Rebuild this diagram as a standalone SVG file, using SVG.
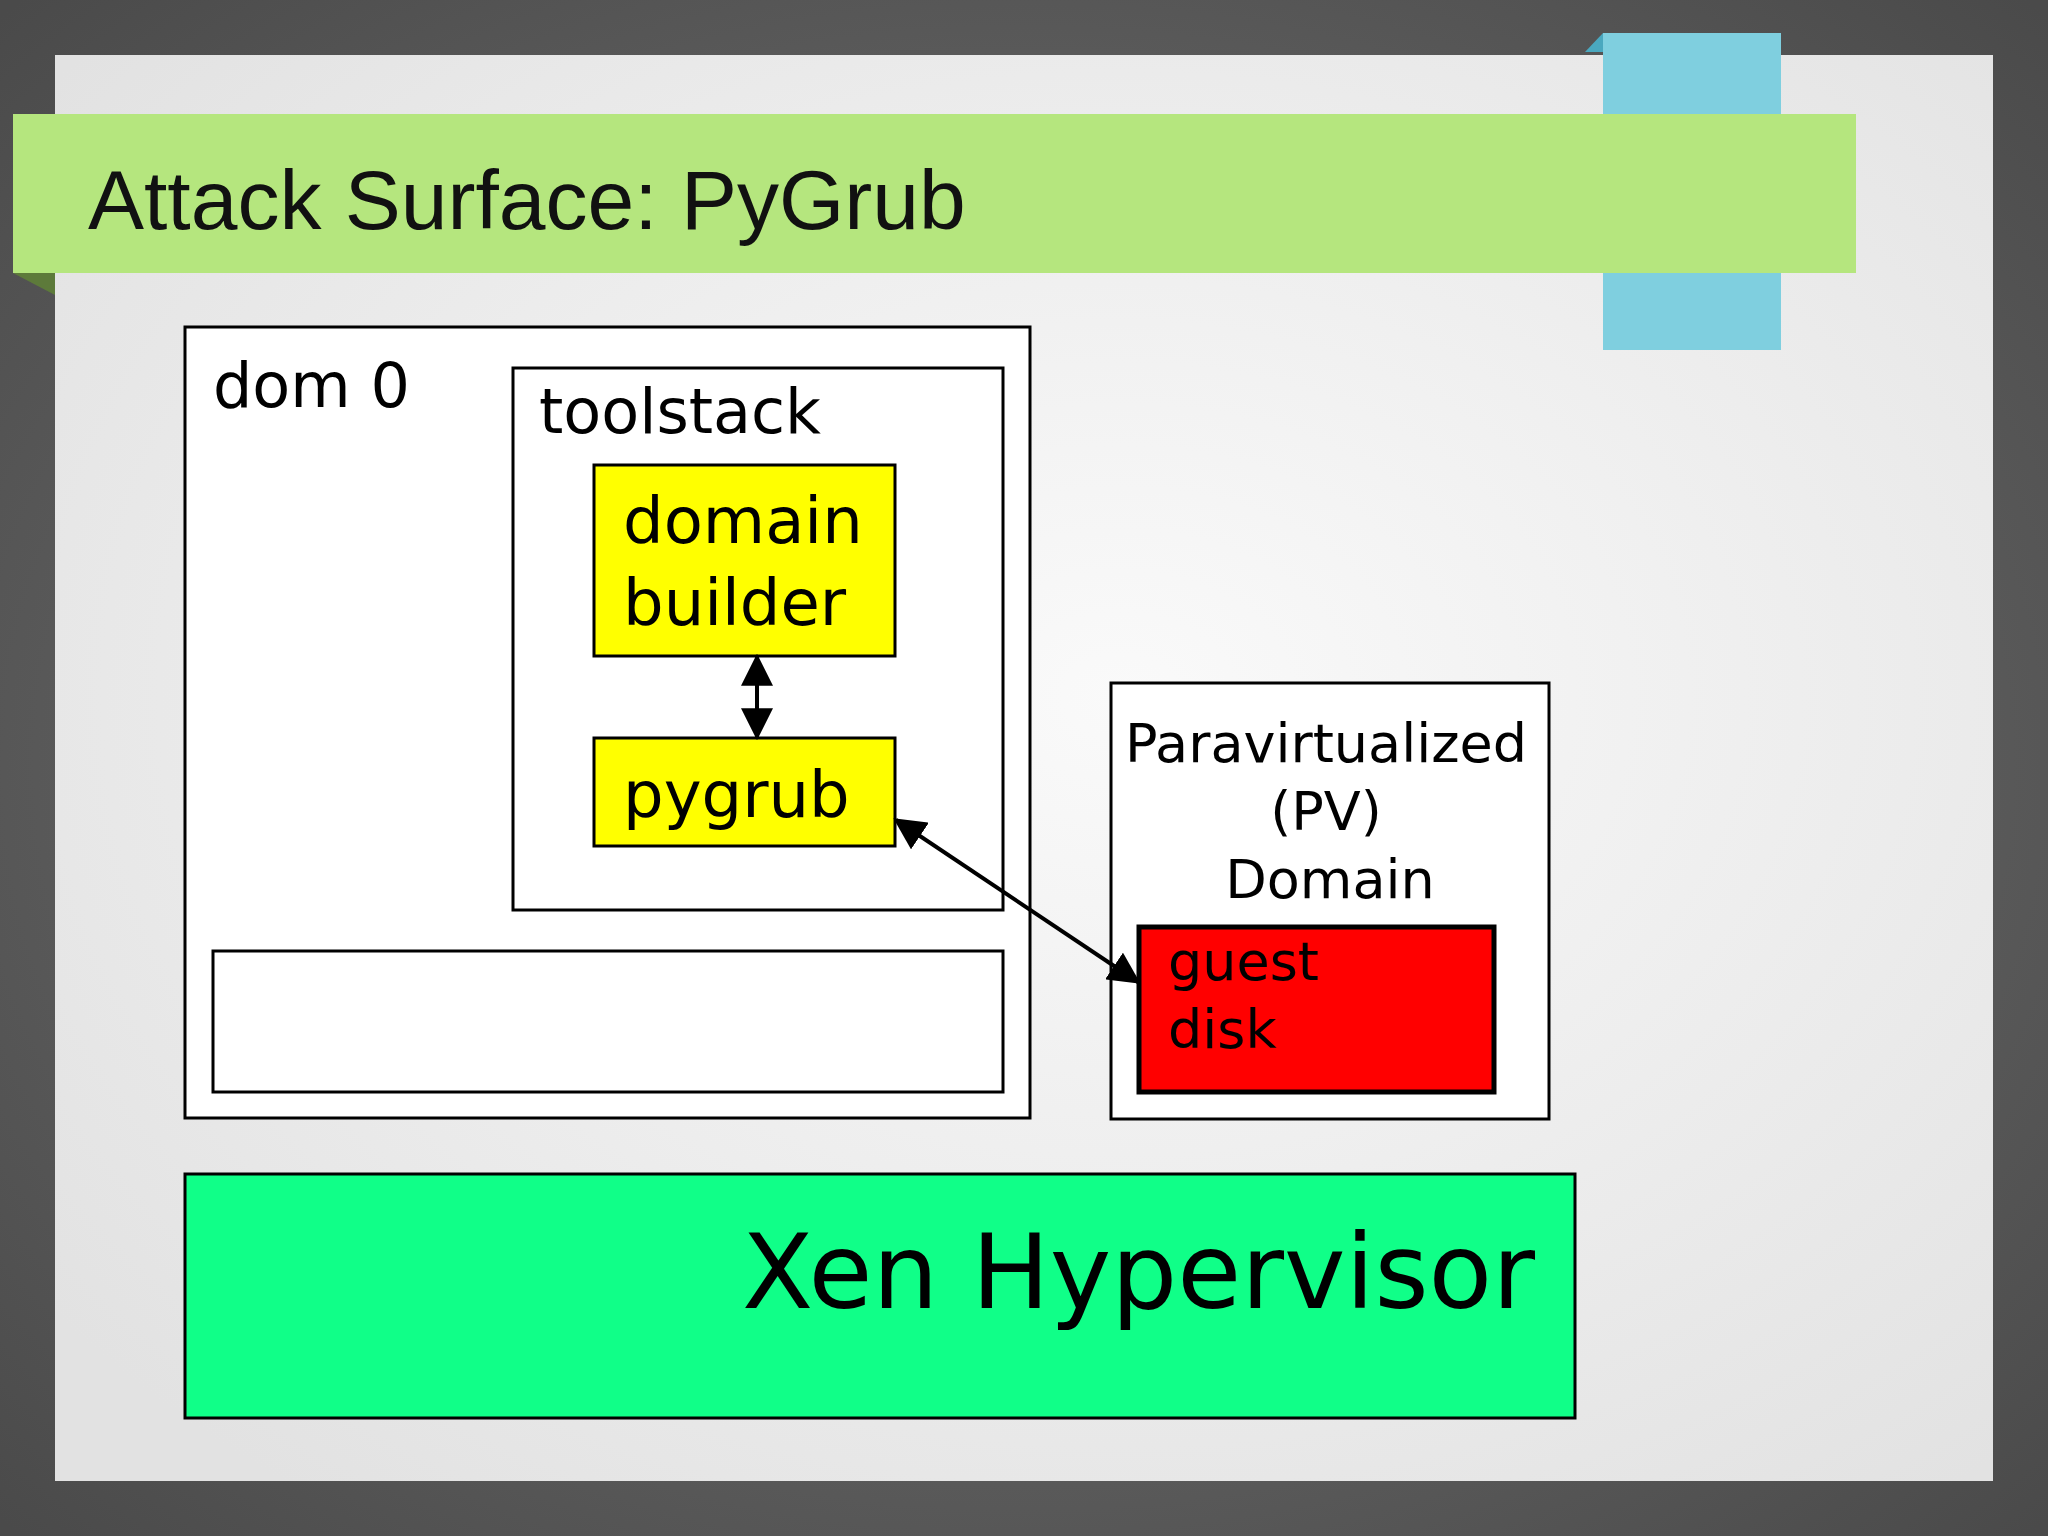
<svg xmlns="http://www.w3.org/2000/svg" width="2048" height="1536" viewBox="0 0 2048 1536">
<defs>
<radialGradient id="bg" cx="0.5" cy="0.5" r="0.7"><stop offset="0" stop-color="#777"/><stop offset="1" stop-color="#4a4a4a"/></radialGradient>
<radialGradient id="slide" cx="0.55" cy="0.45" r="0.7"><stop offset="0" stop-color="#fafafa"/><stop offset="1" stop-color="#e2e2e2"/></radialGradient>
<marker id="ah" viewBox="0 0 10 10" refX="9" refY="5" markerWidth="8" markerHeight="8" orient="auto-start-reverse"><path d="M0,0 L10,5 L0,10 z" fill="#000"/></marker>
</defs>
<style>
.t{font-family:"DejaVu Sans",sans-serif;fill:#000}
.box{fill:#fff;stroke:#000;stroke-width:3}
.y{fill:#ffff00;stroke:#000;stroke-width:3}
.c{stroke:#000;stroke-width:4;fill:none;marker-start:url(#ah);marker-end:url(#ah)}
</style>
<rect width="2048" height="1536" fill="url(#bg)"/>
<rect x="55" y="55" width="1938" height="1426" fill="url(#slide)"/>
<polygon points="1585,52 1603,33 1603,52" fill="#4aa8bf"/>
<rect x="1603" y="33" width="178" height="317" fill="#7fcfdf"/>
<polygon points="13,273 55,273 55,295" fill="#5d7a3a"/>
<rect x="13" y="114" width="1843" height="159" fill="#b5e67e"/>
<text x="88" y="229" font-family="Liberation Sans, sans-serif" font-size="84" fill="#111">Attack Surface: PyGrub</text>
<g id="dom0"><rect class="box" x="185" y="327" width="845" height="791" stroke-width="4"/><text class="t" x="213" y="407" font-size="62">dom 0</text></g>
<g id="toolstack"><rect class="box" x="513" y="368" width="490" height="542"/><text class="t" x="539" y="433" font-size="62">toolstack</text></g>
<g id="builder"><rect class="y" x="594" y="465" width="301" height="191"/><text class="t" x="623" y="543" font-size="64">domain</text><text class="t" x="623" y="625" font-size="64">builder</text></g>
<g id="pygrub"><rect class="y" x="594" y="738" width="301" height="108"/><text class="t" x="623" y="817" font-size="64">pygrub</text></g>
<g id="empty"><rect class="box" x="213" y="951" width="790" height="141"/></g>
<g id="pv"><rect class="box" x="1111" y="683" width="438" height="436"/>
<text class="t" x="1326" y="762" font-size="54" text-anchor="middle">Paravirtualized</text>
<text class="t" x="1326" y="830" font-size="54" text-anchor="middle">(PV)</text>
<text class="t" x="1330" y="898" font-size="54" text-anchor="middle">Domain</text></g>
<g id="disk"><rect x="1139" y="927" width="355" height="165" fill="#ff0000" stroke="#000" stroke-width="5"/><text class="t" x="1168" y="980" font-size="54">guest</text><text class="t" x="1168" y="1048" font-size="54">disk</text></g>
<g id="xen"><rect x="185" y="1174" width="1390" height="244" fill="#10ff88" stroke="#000" stroke-width="3"/><text class="t" x="1535" y="1308" font-size="104" text-anchor="end">Xen Hypervisor</text></g>
<g id="connectors">
<line class="c" x1="757" y1="657" x2="757" y2="737"/>
<line class="c" x1="896" y1="820" x2="1138" y2="982"/>
</g>
</svg>
